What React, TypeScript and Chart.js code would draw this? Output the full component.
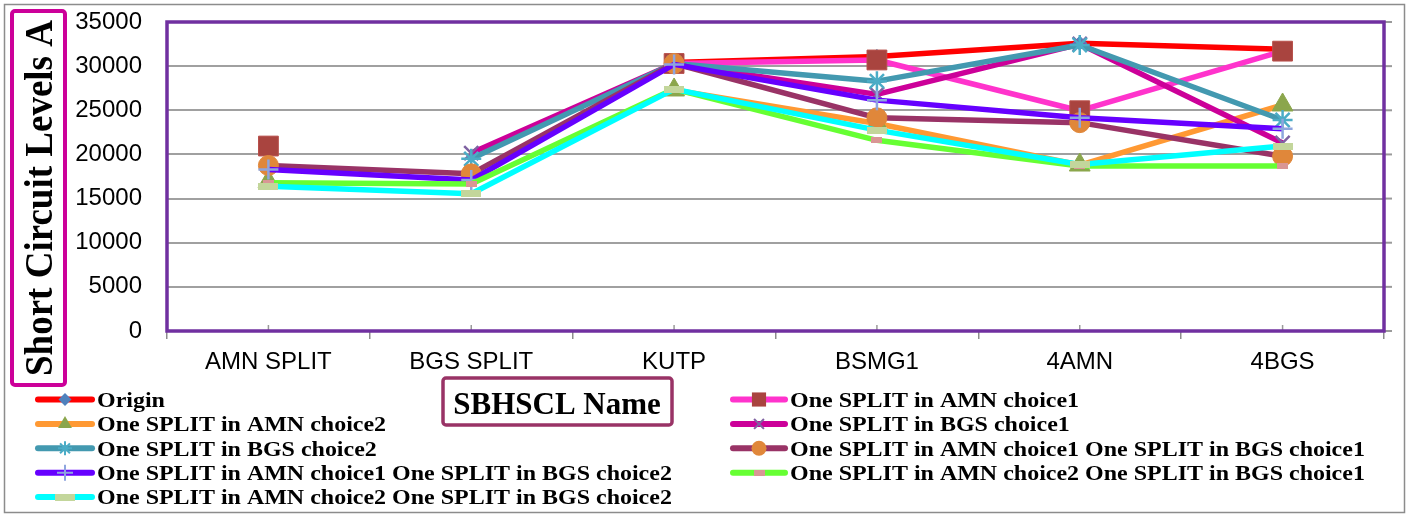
import React, { useEffect, useRef } from 'react';
import { Chart, registerables } from 'chart.js';

Chart.register(...registerables);

// ---------- data ----------
const categories = ['AMN SPLIT', 'BGS SPLIT', 'KUTP', 'BSMG1', '4AMN', '4BGS'];

const seriesNames = [
  'Origin',
  'One SPLIT in AMN choice1',
  'One SPLIT in AMN choice2',
  'One SPLIT in BGS choice1',
  'One SPLIT in BGS choice2',
  'One SPLIT in AMN choice1 One SPLIT in BGS choice1',
  'One SPLIT in AMN choice1 One SPLIT in BGS choice2',
  'One SPLIT in AMN choice2 One SPLIT in BGS choice1',
  'One SPLIT in AMN choice2 One SPLIT in BGS choice2',
];

const originValues = [null, null, 30400, 31100, 32600, 31900];
const amn1Values = [20950, null, 30300, 30700, 24950, 31700];
const amn2Values = [16900, null, 27300, 23500, 18800, 25600];
const bgs1Values = [null, 20150, 30300, 26800, 32500, 21300];
const bgs2Values = [null, 19500, 30300, 28300, 32400, 23900];
const amn1bgs1Values = [18750, 17800, 30300, 24150, 23600, 19800];
const amn1bgs2Values = [18300, 17100, 30200, 26150, 24150, 22900];
const amn2bgs1Values = [16800, 16650, 27400, 21600, 18700, 18700];
const amn2bgs2Values = [16400, 15550, 27400, 22750, 18850, 20950];

const yTickValues = [0, 5000, 10000, 15000, 20000, 25000, 30000, 35000];
const yAxisTitle = 'Short Circuit Levels A';
const xAxisTitle = 'SBHSCL Name';

// ---------- styles ----------
const lineColors = ['#FF0000', '#FF33CC', '#FF9933', '#CC0099', '#4399B0', '#993366', '#6600FF', '#66FF33', '#00FFFF'];
const markerColors = ['#4F81BD', '#A9443F', '#8BA64C', '#7F62A2', '#4BACC6', '#E0873A', '#8EA5DE', '#D99694', '#C3D69B'];
const markerStyles = ['rectRot', 'rect', 'triangle', 'crossRot', 'star', 'circle', 'cross', 'dashSmall', 'dashWide'];
const markerRadius = [7, 14, 12, 10, 10, 10, 10, 5, 5];
const legendMarkerRadius = [6.5, 10, 8, 7, 7, 7.5, 8, 5, 5];
const SERIF = '"Liberation Serif", "Times New Roman", serif';
const SANS = '"Liberation Sans", Arial, sans-serif';

function makeDash(w: number, h: number, color: string) {
  const c = document.createElement('canvas');
  c.width = w;
  c.height = h;
  const g = c.getContext('2d')!;
  g.fillStyle = color;
  g.fillRect(0, 0, w, h);
  return c;
}

function drawMarker(ctx: CanvasRenderingContext2D, style: string, x: number, y: number, r: number, color: string, img?: HTMLCanvasElement) {
  ctx.save();
  ctx.fillStyle = color;
  ctx.strokeStyle = color;
  ctx.lineWidth = 2;
  ctx.beginPath();
  const d = r * Math.SQRT1_2;
  switch (style) {
    case 'rectRot':
      ctx.moveTo(x, y - r); ctx.lineTo(x + r, y); ctx.lineTo(x, y + r); ctx.lineTo(x - r, y); ctx.closePath(); ctx.fill();
      break;
    case 'rect':
      ctx.fillRect(x - d, y - d, 2 * d, 2 * d);
      break;
    case 'triangle':
      ctx.moveTo(x, y - r); ctx.lineTo(x + r * 0.866, y + r * 0.5); ctx.lineTo(x - r * 0.866, y + r * 0.5); ctx.closePath(); ctx.fill();
      break;
    case 'circle':
      ctx.arc(x, y, r, 0, Math.PI * 2); ctx.fill();
      break;
    case 'cross':
      ctx.moveTo(x - r, y); ctx.lineTo(x + r, y); ctx.moveTo(x, y - r); ctx.lineTo(x, y + r); ctx.stroke();
      break;
    case 'crossRot':
      ctx.moveTo(x - d, y - d); ctx.lineTo(x + d, y + d); ctx.moveTo(x - d, y + d); ctx.lineTo(x + d, y - d); ctx.stroke();
      break;
    case 'star':
      ctx.moveTo(x - r, y); ctx.lineTo(x + r, y); ctx.moveTo(x, y - r); ctx.lineTo(x, y + r);
      ctx.moveTo(x - d, y - d); ctx.lineTo(x + d, y + d); ctx.moveTo(x - d, y + d); ctx.lineTo(x + d, y - d); ctx.stroke();
      break;
    default:
      if (img) ctx.drawImage(img, x - img.width / 2, y - img.height / 2);
  }
  ctx.restore();
}

export default function App() {
  const ref = useRef<HTMLCanvasElement>(null);

  useEffect(() => {
    const canvas = ref.current!;
    const images: Record<string, HTMLCanvasElement> = {
      dashSmall: makeDash(11, 6, markerColors[7]),
      dashWide: makeDash(20, 7, markerColors[8]),
    };
    const seriesValues = [
      originValues, amn1Values, amn2Values, bgs1Values, bgs2Values,
      amn1bgs1Values, amn1bgs2Values, amn2bgs1Values, amn2bgs2Values,
    ];
    const isStroke = (s: string) => s === 'cross' || s === 'crossRot' || s === 'star';

    const datasets = seriesNames.map((name, i) => ({
      label: name,
      data: seriesValues[i],
      borderColor: lineColors[i],
      backgroundColor: markerColors[i],
      borderWidth: 5.5,
      borderJoinStyle: 'round' as const,
      tension: 0,
      fill: false,
      spanGaps: false,
      pointStyle: (images[markerStyles[i]] || markerStyles[i]) as any,
      pointRadius: markerRadius[i],
      pointBackgroundColor: markerColors[i],
      pointBorderColor: i === 1 ? '#B8504B' : markerColors[i],
      pointBorderWidth: isStroke(markerStyles[i]) ? 2.5 : 1,
      order: -i,
    }));

    const decor = {
      id: 'decor',
      beforeDatasetsDraw(chart: any) {
        const ctx = chart.ctx as CanvasRenderingContext2D;
        const ca = chart.chartArea;
        ctx.save();
        // right-side grid tick extensions
        const ys = chart.scales.y;
        ctx.strokeStyle = '#9A9A9A';
        ctx.lineWidth = 2;
        yTickValues.forEach((v) => {
          const py = ys.getPixelForValue(v);
          ctx.beginPath(); ctx.moveTo(ca.right, py); ctx.lineTo(ca.right + 8, py); ctx.stroke();
        });
        // inward category ticks
        const xs = chart.scales.x;
        ctx.lineWidth = 1.5;
        categories.forEach((_, i) => {
          const px = xs.getPixelForValue(i);
          ctx.beginPath(); ctx.moveTo(px, ca.bottom); ctx.lineTo(px, ca.bottom - 6); ctx.stroke();
        });
        // purple frame
        ctx.strokeStyle = '#7030A0';
        ctx.lineWidth = 3.5;
        ctx.strokeRect(ca.left, ca.top, ca.right - ca.left, ca.bottom - ca.top);
        ctx.restore();
      },
      afterDraw(chart: any) {
        const ctx = chart.ctx as CanvasRenderingContext2D;
        ctx.save();
        // outer border
        ctx.strokeStyle = '#8C8C8C';
        ctx.lineWidth = 1.5;
        ctx.strokeRect(4.5, 4.5, 1400, 508);

        // y-axis title box
        ctx.strokeStyle = '#CC0099';
        ctx.lineWidth = 4;
        ctx.beginPath();
        (ctx as any).roundRect(12, 11, 53, 374, 3);
        ctx.stroke();
        ctx.save();
        ctx.translate(52, 198);
        ctx.rotate(-Math.PI / 2);
        ctx.scale(1, 1.1);
        ctx.fillStyle = '#000';
        ctx.font = `bold 37px ${SERIF}`;
        ctx.textAlign = 'center';
        ctx.textBaseline = 'alphabetic';
        ctx.fillText(yAxisTitle, 0, 0);
        ctx.restore();

        // x-axis title box
        ctx.strokeStyle = '#993366';
        ctx.lineWidth = 3.5;
        ctx.beginPath();
        (ctx as any).roundRect(443, 378, 229, 47, 3);
        ctx.stroke();
        ctx.fillStyle = '#000';
        ctx.font = `bold 31px ${SERIF}`;
        ctx.textAlign = 'center';
        ctx.textBaseline = 'alphabetic';
        ctx.fillText(xAxisTitle, 557, 414);

        // legend
        const cols = [
          { x0: 38, x1: 92, mx: 65, tx: 97 },
          { x0: 733, x1: 785, mx: 759, tx: 790 },
        ];
        seriesNames.forEach((name, i) => {
          const col = cols[i % 2];
          const y = 399.5 + Math.floor(i / 2) * 24.4;
          ctx.save();
          ctx.strokeStyle = lineColors[i];
          ctx.lineWidth = 6;
          ctx.lineCap = 'round';
          ctx.beginPath(); ctx.moveTo(col.x0, y); ctx.lineTo(col.x1, y); ctx.stroke();
          ctx.restore();
          drawMarker(ctx, markerStyles[i], col.mx, y, legendMarkerRadius[i], markerColors[i], images[markerStyles[i]]);
          ctx.save();
          ctx.translate(col.tx, y + 7.3);
          ctx.scale(1.09, 1);
          ctx.fillStyle = '#000';
          ctx.font = `bold 22px ${SERIF}`;
          ctx.textAlign = 'left';
          ctx.textBaseline = 'alphabetic';
          ctx.fillText(name, 0, 0);
          ctx.restore();
        });
        ctx.restore();
      },
    };

    const chart = new Chart(canvas, {
      type: 'line',
      data: { labels: categories, datasets: datasets as any },
      options: {
        responsive: false,
        animation: false,
        events: [],
        layout: { padding: { left: 0, top: 22, right: 26, bottom: 0 } },
        plugins: {
          legend: { display: false },
          tooltip: { enabled: false },
          title: { display: false },
        },
        scales: {
          x: {
            type: 'category',
            offset: true,
            grid: {
              offset: true,
              drawOnChartArea: false,
              drawTicks: true,
              tickLength: 8,
              color: '#8C8C8C',
              lineWidth: 1.5,
            },
            border: { display: false },
            ticks: {
              color: '#000',
              padding: 9,
              maxRotation: 0,
              autoSkip: false,
              font: { family: SANS, size: 24 },
            },
            afterFit(scale: any) {
              scale.height = 184;
              scale.paddingLeft = 0;
              scale.paddingRight = 0;
            },
          },
          y: {
            min: 0,
            max: 35000,
            grid: { color: '#A0A0A0', lineWidth: 2, drawTicks: false },
            border: { display: false },
            ticks: {
              stepSize: 5000,
              color: '#000',
              padding: 25,
              font: { family: SANS, size: 24 },
              callback: (v: any) => String(v),
            },
            afterFit(scale: any) {
              scale.width = 167;
              scale.paddingTop = 0;
              scale.paddingBottom = 0;
            },
          },
        },
      },
      plugins: [decor],
    });

    return () => chart.destroy();
  }, []);

  return (
    <div style={{ position: 'fixed', left: 0, top: 0, width: 1410, height: 515, background: '#fff' }}>
      <canvas ref={ref} width={1410} height={515} style={{ width: 1410, height: 515, display: 'block' }} />
    </div>
  );
}
